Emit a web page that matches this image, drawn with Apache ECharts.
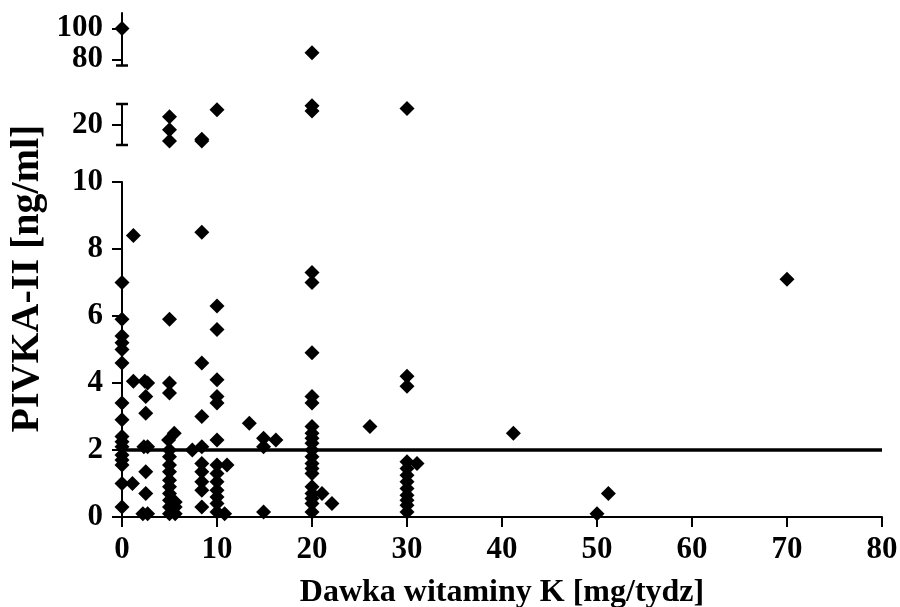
<!DOCTYPE html>
<html>
<head>
<meta charset="utf-8">
<script src="https://cdn.jsdelivr.net/npm/echarts@6/dist/echarts.min.js"></script>
<style>
  html, body { margin: 0; padding: 0; background: #fff; }
  #chart { width: 900px; height: 607px; }
</style>
</head>
<body>
<div id="chart"></div>
<script>
// Vitamin K dose [mg/week] vs PIVKA-II [ng/ml]; the y axis is broken in three parts

// lower part of the axis, 0 - 10
const lowPoints = [
  [0, 7.0], [0, 5.9], [0, 5.4], [0, 5.2], [0, 5.0], [0, 4.6], [0, 3.4], [0, 2.9],
  [0, 2.4], [0, 2.25], [0, 2.1], [0, 1.85], [0, 1.7], [0, 1.55], [0, 1.0], [0, 0.3],
  [1.2, 8.4], [1.2, 4.05], [1.1, 1.0],
  [2.4, 4.05], [2.7, 4.0], [2.5, 3.6], [2.5, 3.1], [2.3, 2.1], [2.7, 2.1],
  [2.5, 1.35], [2.5, 0.7], [2.2, 0.1], [2.7, 0.1],
  [5, 5.9], [5, 4.0], [5, 3.7], [5.5, 2.5], [4.9, 2.3], [5, 2.0], [5, 1.8], [5, 1.55],
  [5, 1.35], [5, 1.1], [5, 0.9], [5, 0.7], [5, 0.5], [5, 0.3], [5, 0.1],
  [5.6, 0.45], [5.6, 0.3], [5.6, 0.1],
  [7.4, 2.0],
  [8.4, 8.5], [8.4, 4.6], [8.4, 3.0], [8.4, 2.1], [8.4, 1.6], [8.4, 1.35], [8.4, 1.05],
  [8.4, 0.8], [8.4, 0.3],
  [10, 6.3], [10, 5.6], [10, 4.1], [10, 3.6], [10, 3.4], [10, 2.3], [10, 1.55], [10, 1.3],
  [10, 1.05], [10, 0.8], [10, 0.6], [10, 0.4], [10, 0.15], [10.8, 0.1], [11.05, 1.55],
  [13.4, 2.8],
  [14.9, 2.35], [14.9, 2.1], [14.9, 0.15], [16.2, 2.3],
  [20, 7.3], [20, 7.0], [20, 4.9], [20, 3.6], [20, 3.4], [20, 2.7], [20, 2.5], [20, 2.35],
  [20, 2.2], [20, 2.0], [20, 1.8], [20, 1.6], [20, 1.45], [20, 1.3], [20, 0.9], [20, 0.7],
  [20, 0.55], [20, 0.4], [20, 0.15], [21.05, 0.7], [22.1, 0.4],
  [26.1, 2.7],
  [30, 4.2], [30, 3.9], [30, 1.65], [30, 1.45], [30, 1.25], [30, 1.05], [30, 0.85],
  [30, 0.65], [30, 0.5], [30, 0.35], [30, 0.15], [31.05, 1.6],
  [41.2, 2.5],
  [50, 0.1], [51.2, 0.7],
  [70, 7.1]
];

// middle part, around 20
const midPoints = [
  [5, 21.9], [5, 18.75], [5, 16.0], [8.4, 16.4], [8.4, 16.0],
  [10, 23.6], [20, 24.6], [20, 23.3], [30, 23.9]
];

// upper part, 80 - 100
const highPoints = [
  [0, 100], [20, 84.3]
];

const cutoff = 2; // horizontal reference line

const xTicks = [0, 10, 20, 30, 40, 50, 60, 70, 80];
const lowTicks = [0, 2, 4, 6, 8, 10];
const midTicks = [20];
const highTicks = [80, 100];

const FONT = '"Liberation Serif", "Times New Roman", serif';
const black = '#000';

const labelStyle = { color: black, fontFamily: FONT, fontWeight: 'bold', fontSize: 31 };
const lineStyle = { color: black, width: 2 };
const dot = { color: black, opacity: 1 };

function yAxis(gridIndex, min, max, ticks, caps) {
  return {
    type: 'value',
    gridIndex: gridIndex,
    min: min,
    max: max,
    splitLine: { show: false },
    axisLine: {
      show: true,
      lineStyle: lineStyle,
      symbol: caps,
      symbolSize: [12, 2.5]
    },
    axisTick: { show: true, length: 10, lineStyle: lineStyle, customValues: ticks },
    axisLabel: Object.assign({ margin: 19, customValues: ticks }, labelStyle)
  };
}

function hiddenX(gridIndex) {
  return { type: 'value', gridIndex: gridIndex, min: 0, max: 80, show: false };
}

const chart = echarts.init(document.getElementById('chart'));

chart.setOption({
  animation: false,
  backgroundColor: '#fff',
  grid: [
    { left: 122, right: 18, top: 182, bottom: 90, outerBoundsMode: 'none' },
    { left: 122, right: 18, top: 104, height: 41, outerBoundsMode: 'none' },
    { left: 122, right: 18, top: 13, height: 52.5, outerBoundsMode: 'none' }
  ],
  xAxis: [
    {
      type: 'value',
      gridIndex: 0,
      min: 0,
      max: 80,
      splitLine: { show: false },
      axisLine: { show: true, onZero: false, lineStyle: lineStyle },
      axisTick: { show: true, length: 10, lineStyle: lineStyle, customValues: xTicks },
      axisLabel: Object.assign({ margin: 17, customValues: xTicks }, labelStyle),
      name: 'Dawka witaminy K [mg/tydz]',
      nameLocation: 'middle',
      nameGap: 60,
      nameTextStyle: { color: black, fontFamily: FONT, fontWeight: 'bold', fontSize: 32 }
    },
    hiddenX(1),
    hiddenX(2)
  ],
  yAxis: [
    yAxis(0, 0, 10, lowTicks, ['none', 'none']),
    yAxis(1, 15, 25, midTicks, ['rect', 'rect']),
    yAxis(2, 76, 110, highTicks, ['rect', 'none'])
  ],
  graphic: [
    {
      type: 'text',
      x: 27.5,
      y: 278.5,
      rotation: Math.PI / 2,
      style: {
        text: 'PIVKA-II [ng/ml]',
        font: 'bold 40px ' + FONT,
        fill: black,
        align: 'center',
        verticalAlign: 'middle'
      }
    }
  ],
  series: [
    {
      type: 'scatter',
      xAxisIndex: 0,
      yAxisIndex: 0,
      data: lowPoints,
      symbol: 'diamond',
      symbolSize: 15,
      itemStyle: dot,
      markLine: {
        silent: true,
        symbol: 'none',
        label: { show: false },
        lineStyle: { color: black, width: 3.5, type: 'solid', opacity: 1 },
        data: [{ yAxis: cutoff }]
      }
    },
    {
      type: 'scatter',
      xAxisIndex: 1,
      yAxisIndex: 1,
      data: midPoints,
      symbol: 'diamond',
      symbolSize: 15,
      itemStyle: dot
    },
    {
      type: 'scatter',
      xAxisIndex: 2,
      yAxisIndex: 2,
      data: highPoints,
      symbol: 'diamond',
      symbolSize: 15,
      itemStyle: dot
    }
  ]
});
</script>
</body>
</html>
